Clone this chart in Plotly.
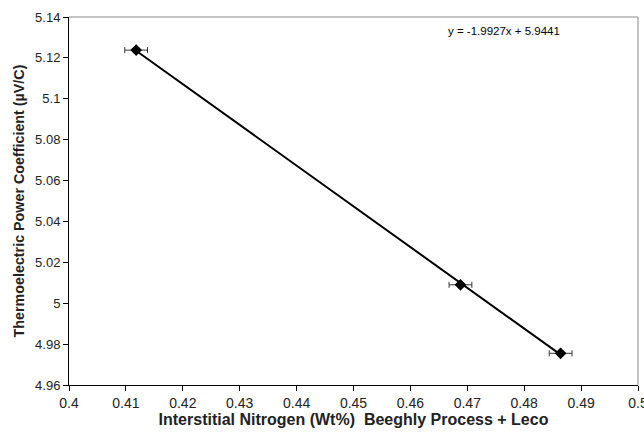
import plotly.graph_objects as go

nitrogen = [0.4118, 0.4688, 0.4864]
tep = [5.1238, 5.0090, 4.9755]
x_err = [0.002, 0.002, 0.002]
y_err = [0.001, 0.001, 0.001]
slope, intercept = -1.9927, 5.9441
x_ticks = [0.4, 0.41, 0.42, 0.43, 0.44, 0.45, 0.46, 0.47, 0.48, 0.49, 0.5]
x_labels = ["0.4", "0.41", "0.42", "0.43", "0.44", "0.45", "0.46", "0.47", "0.48", "0.49", "0.5"]
y_ticks = [4.96, 4.98, 5.0, 5.02, 5.04, 5.06, 5.08, 5.1, 5.12, 5.14]
y_labels = ["4.96", "4.98", "5", "5.02", "5.04", "5.06", "5.08", "5.1", "5.12", "5.14"]

trend_x = [min(nitrogen), max(nitrogen)]
trend_y = [slope * v + intercept for v in trend_x]

fig = go.Figure()
fig.add_trace(go.Scatter(x=trend_x, y=trend_y, mode="lines",
                         line=dict(color="black", width=2), hoverinfo="skip"))
fig.add_trace(go.Scatter(
    x=nitrogen, y=tep, mode="markers",
    marker=dict(symbol="diamond", size=9, color="black"),
    error_x=dict(type="data", array=x_err, color="#333333", thickness=1, width=3),
    error_y=dict(type="data", array=y_err, color="#333333", thickness=1, width=3),
))

font = "Liberation Sans, Arial, sans-serif"
fig.update_layout(
    width=644, height=439,
    margin=dict(l=69, r=6, t=17, b=54),
    paper_bgcolor="white", plot_bgcolor="white",
    showlegend=False,
    font=dict(family=font, color="#222222", size=13),
    xaxis=dict(range=[0.4, 0.5000001], tickvals=x_ticks, ticktext=x_labels,
               ticks="outside", ticklen=5, tickcolor="black",
               tickfont=dict(size=14, family=font),
               ticklabeloverflow="allow",
               showline=True, linecolor="black", linewidth=1, mirror=False,
               showgrid=False, zeroline=False, automargin=False,
               title=dict(text="<b>Interstitial Nitrogen (Wt%)  Beeghly Process + Leco</b>",
                          font=dict(size=16, family=font), standoff=3)),
    yaxis=dict(range=[4.96, 5.14], tickvals=y_ticks, ticktext=y_labels,
               ticks="outside", ticklen=5, tickcolor="black",
               tickfont=dict(size=13, family=font),
               showline=True, linecolor="black", linewidth=1,
               showgrid=False, zeroline=False, automargin=False,
               title=dict(text="<b>Thermoelectric Power Coefficient (µV/C)</b>",
                          font=dict(size=14.3, family=font), standoff=7)),
    shapes=[
        dict(type="line", xref="paper", yref="paper", x0=0, x1=1, y0=1, y1=1,
             line=dict(color="#888888", width=1)),
        dict(type="line", xref="paper", yref="paper", x0=1, x1=1, y0=0, y1=1,
             line=dict(color="#888888", width=1)),
    ],
    annotations=[dict(text="y = -1.9927x + 5.9441", xref="paper", yref="paper",
                      x=0.765, y=0.963, xanchor="center", yanchor="middle",
                      showarrow=False, font=dict(size=11.5, family=font, color="black"))],
)

fig.write_html("out.html")
